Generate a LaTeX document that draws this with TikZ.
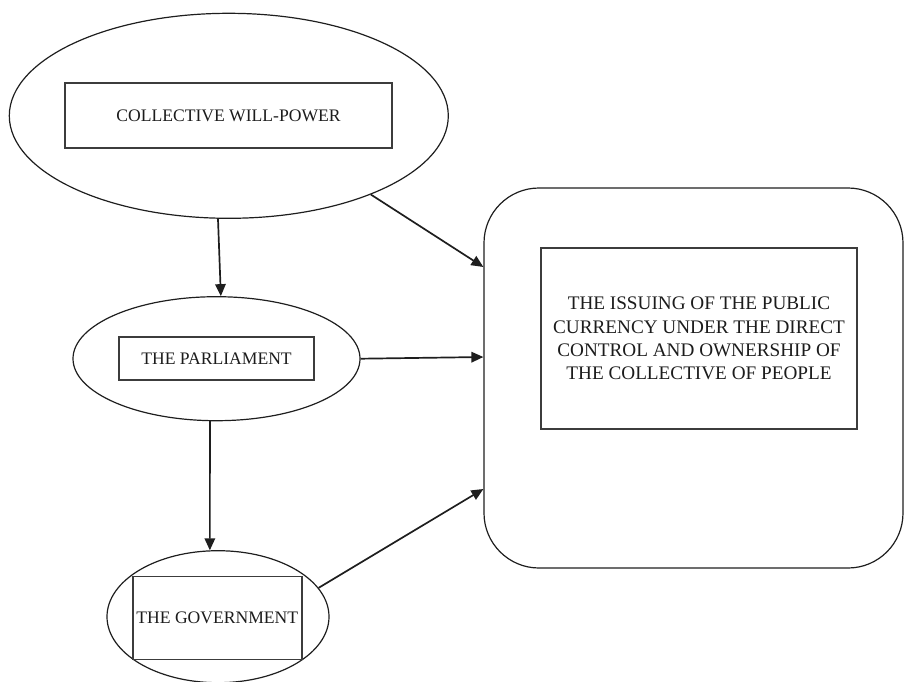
\documentclass[tikz,border=0pt]{standalone}
\usepackage{fontspec}
\setmainfont{Liberation Serif}
\usetikzlibrary{shapes.geometric,arrows.meta}
\definecolor{inkline}{HTML}{1E1E1E}
\definecolor{boxline}{HTML}{3C3C3C}
\definecolor{inktext}{HTML}{1C1C1C}
\tikzset{
  oval/.style={ellipse, draw=inkline, line width=1.2pt, inner sep=0pt},
  labelbox/.style={draw=boxline, line width=1.4pt, inner sep=0pt, align=center,
    text=inktext, font=\fontsize{17.6pt}{21pt}\selectfont},
  bigbox/.style={draw=inkline, line width=1.2pt, rounded corners=55pt, inner sep=0pt},
  flow/.style={draw=inkline, line width=1.7pt, -{Triangle[length=12pt,width=10.5pt]}}
}
\begin{document}
\begin{tikzpicture}[x=1pt,y=-1pt]
  \useasboundingbox (0,0) rectangle (905,681);

  % collective will-power
  \node[oval, minimum width=439pt, minimum height=205pt] (will) at (228.8,115.8) {};
  \node[labelbox, minimum width=327pt, minimum height=65pt] (willbox) at (228.5,115.5) {COLLECTIVE WILL-POWER};

  % parliament
  \node[oval, minimum width=287pt, minimum height=124pt] (parl) at (216.5,358.7) {};
  \node[labelbox, minimum width=195pt, minimum height=43pt] (parlbox) at (216.5,358.5) {THE PARLIAMENT};

  % government
  \node[oval, minimum width=222pt, minimum height=132pt] (gov) at (218,616.7) {};
  \node[labelbox, minimum width=169pt, minimum height=83pt] (govbox) at (217.3,618) {THE GOVERNMENT};

  % public currency
  \node[bigbox, minimum width=419pt, minimum height=380pt] (issue) at (693.5,378) {};
  \node[labelbox, minimum width=316pt, minimum height=181pt,
        font=\fontsize{19.2pt}{23.3pt}\selectfont] (issuebox) at (699,338.5)
        {THE ISSUING OF THE PUBLIC\\CURRENCY UNDER THE DIRECT\\CONTROL AND OWNERSHIP OF\\THE COLLECTIVE OF PEOPLE};

  % connectors
  \draw[flow] (will.-29) -- ([yshift=111pt]issue.west);
  \draw[flow] (will.-96) -- (parl.86);
  \draw[flow] (parl.east) -- ([yshift=21pt]issue.west);
  \draw[flow] (parl.-96.6) -- (gov.97.4);
  \draw[flow] (gov.16.7) -- ([yshift=-111pt]issue.west);
\end{tikzpicture}
\end{document}
